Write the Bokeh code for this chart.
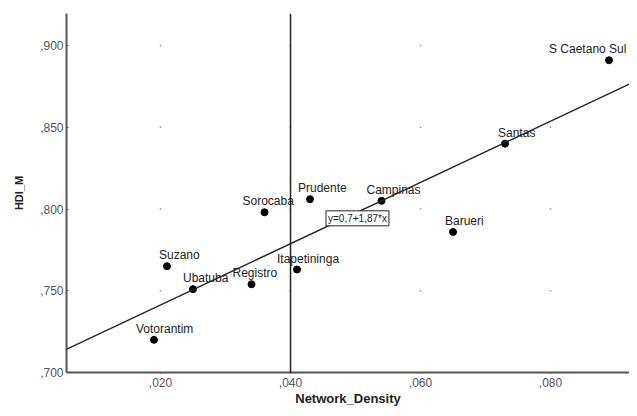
import numpy as np
from bokeh.plotting import figure
from bokeh.models import ColumnDataSource, LabelSet, Label, Span, Slope, FixedTicker, Range1d
from bokeh.core.properties import value
from bokeh.embed import file_html
from bokeh.resources import INLINE

# ---- data ----
cities = ["Votorantim", "Suzano", "Ubatuba", "Registro", "Itapetininga", "Sorocaba",
          "Prudente", "Campinas", "Santas", "S Caetano Sul", "Barueri"]
density = [0.019, 0.021, 0.025, 0.034, 0.041, 0.036, 0.043, 0.054, 0.073, 0.089, 0.065]
hdi = [0.720, 0.765, 0.751, 0.754, 0.763, 0.798, 0.806, 0.805, 0.840, 0.891, 0.786]

x_ticks = [0.02, 0.04, 0.06, 0.08]
x_tick_labels = [",020", ",040", ",060", ",080"]
y_ticks = [0.70, 0.75, 0.80, 0.85, 0.90]
y_tick_labels = [",700", ",750", ",800", ",850", ",900"]
density_ref = 0.04
equation = "y=0,7+1,87*x"
x_title = "Network_Density"
y_title = "HDI_M"

# ---- label placement (style, screen px) ----
label_dx = [-18, -8, -10, -19, -20, -22, -12, -15, -7, -60, -8]

FONT = "Liberation Sans"

p = figure(width=629, height=408, output_backend="svg", toolbar_location=None,
           x_range=Range1d(0.00554, 0.09215), y_range=Range1d(0.700, 0.9196),
           min_border_left=66, min_border_right=0, min_border_top=13, min_border_bottom=36)
p.outline_line_color = None
p.background_fill_color = "white"
p.border_fill_color = "white"
p.xgrid.visible = False
p.ygrid.visible = False

# grid dots at tick intersections
gx, gy = np.meshgrid(x_ticks, y_ticks[1:])
p.scatter(gx.ravel(), gy.ravel(), marker="square", size=1.5, color="#9a9a9a", line_color=None)

# reference line and fit line
p.add_layout(Span(location=density_ref, dimension="height", line_color="#222222", line_width=1.5))
slope, intercept = np.polyfit(density, hdi, 1)
p.add_layout(Slope(gradient=slope, y_intercept=intercept, line_color="#222222", line_width=1.5))

src = ColumnDataSource(dict(x=density, y=hdi, name=cities, dx=label_dx))
p.scatter("x", "y", source=src, size=7, color="black")
p.add_layout(LabelSet(x="x", y="y", text="name", source=src, x_offset="dx", y_offset=7,
                      text_align="left", text_baseline="alphabetic",
                      text_font=value(FONT), text_font_size="12px", text_color="#222222"))

p.add_layout(Label(x=0.0503, y=0.7943, text=equation, text_align="center", text_baseline="middle",
                   text_font=FONT, text_font_size="10px", text_color="#222222",
                   background_fill_color="white", border_line_color="#222222",
                   border_line_width=1, padding=2))

for ax in (p.xaxis[0], p.yaxis[0]):
    ax.axis_line_color = "#555555"
    ax.axis_line_width = 2
    ax.major_tick_line_color = "#555555"
    ax.minor_tick_line_color = None
    ax.major_label_text_font = FONT
    ax.major_label_text_font_size = "12px"
    ax.major_label_text_color = "#555555"
    ax.axis_label_text_font = FONT
    ax.axis_label_text_font_style = "bold"
    ax.axis_label_text_color = "#222222"

p.xaxis.ticker = FixedTicker(ticks=x_ticks)
p.xaxis.major_label_overrides = dict(zip(x_ticks, x_tick_labels))
p.xaxis.axis_label = x_title
p.xaxis.axis_label_text_font_size = "13px"
p.xaxis.major_tick_in = 0
p.xaxis.major_tick_out = 1
p.xaxis.major_label_standoff = 4
p.xaxis.axis_label_standoff = 1

p.yaxis.ticker = FixedTicker(ticks=y_ticks)
p.yaxis.major_label_overrides = dict(zip(y_ticks, y_tick_labels))
p.yaxis.axis_label = y_title
p.yaxis.axis_label_text_font_size = "11px"
p.yaxis.major_tick_in = 2
p.yaxis.major_tick_out = 0
p.yaxis.major_label_standoff = 3
p.yaxis.axis_label_standoff = 12

open("out.html", "w").write(file_html(p, INLINE))
